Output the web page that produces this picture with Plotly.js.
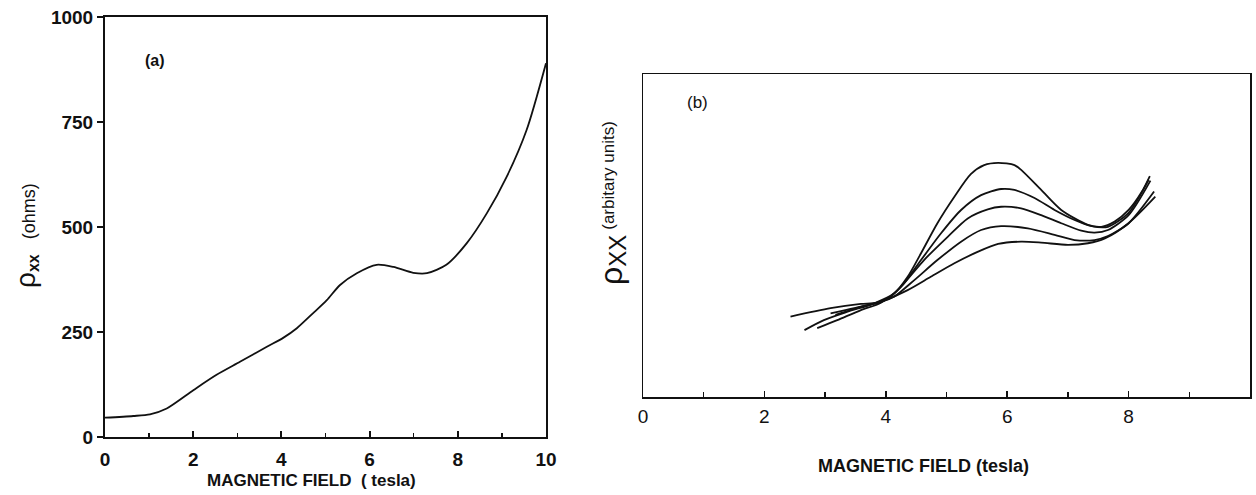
<!DOCTYPE html>
<html>
<head>
<meta charset="utf-8">
<script src="https://cdn.plot.ly/plotly-3.0.1.min.js"></script>
<style>html,body{margin:0;padding:0;background:#fff;}#chart{width:1256px;height:495px;}</style>
</head>
<body>
<div id="chart"></div>
<script>
// Panel (a): rho_xx (ohms) vs magnetic field (tesla)
const fieldA = [0, 0.64, 1.02, 1.40, 2.01, 2.53, 3.06, 3.67, 4.04, 4.35, 4.72, 5.03, 5.33, 5.71, 6.16, 6.54, 6.99, 7.30, 7.74, 8.20, 8.66, 9.11, 9.56, 10.0];
const rhoA   = [46, 50, 54, 68, 112, 148, 179, 215, 236, 259, 295, 326, 362, 390, 410, 405, 391, 390, 410, 461, 533, 620, 731, 890];

// Panel (b): rho_xx (arbitrary units), five curves
const fieldB1 = [2.66, 2.98, 3.37, 3.81, 4.14, 4.36, 4.58, 4.85, 5.13, 5.40, 5.62, 5.85, 6.12, 6.23, 6.56, 6.89, 7.33, 7.55, 7.77, 8.00, 8.22, 8.35];
const rhoB1   = [2.07, 2.38, 2.64, 2.90, 3.21, 3.72, 4.45, 5.38, 6.20, 6.90, 7.18, 7.25, 7.18, 7.03, 6.41, 5.79, 5.33, 5.27, 5.43, 5.79, 6.36, 6.84];
const fieldB2 = [2.87, 3.20, 3.59, 3.92, 4.25, 4.58, 4.91, 5.24, 5.57, 5.90, 6.12, 6.45, 6.78, 7.11, 7.39, 7.66, 8.00, 8.33];
const rhoB2   = [2.13, 2.38, 2.69, 2.92, 3.41, 4.24, 5.07, 5.79, 6.25, 6.44, 6.41, 6.16, 5.79, 5.48, 5.29, 5.27, 5.70, 6.72];
const fieldB3 = [3.09, 3.48, 3.88, 4.08, 4.30, 4.63, 5.02, 5.35, 5.68, 5.90, 6.23, 6.56, 6.89, 7.22, 7.44, 7.66, 8.00, 8.36];
const rhoB3   = [2.59, 2.75, 2.94, 3.11, 3.52, 4.24, 4.96, 5.53, 5.81, 5.89, 5.84, 5.63, 5.38, 5.15, 5.09, 5.17, 5.63, 6.70];
const fieldB4 = [3.17, 3.59, 3.92, 4.14, 4.47, 4.85, 5.24, 5.57, 5.90, 6.34, 6.78, 7.11, 7.44, 7.66, 8.00, 8.42];
const rhoB4   = [2.54, 2.79, 2.94, 3.11, 3.62, 4.24, 4.81, 5.17, 5.29, 5.22, 5.02, 4.86, 4.86, 4.98, 5.38, 6.36];
const fieldB5 = [2.43, 3.09, 3.59, 3.86, 4.36, 4.74, 5.13, 5.52, 5.85, 6.23, 6.56, 7.00, 7.33, 7.61, 8.00, 8.44];
const rhoB5   = [2.49, 2.75, 2.88, 2.92, 3.31, 3.72, 4.14, 4.50, 4.74, 4.81, 4.78, 4.71, 4.76, 4.91, 5.38, 6.20];

const ticksA_y = [0, 250, 500, 750, 1000];
const ticksA_x = [0, 2, 4, 6, 8, 10];
const ticksB_x = [0, 2, 4, 6, 8];

const W = 1256, H = 495;
const px = v => v / W;
const py = v => 1 - v / H;

const lineStyle = {color: '#111', width: 1.8, shape: 'spline', smoothing: 0.75};

const traces = [
  {x: fieldA, y: rhoA, xaxis: 'x', yaxis: 'y', mode: 'lines', line: lineStyle, hoverinfo: 'skip'},
  {x: fieldB1, y: rhoB1, xaxis: 'x2', yaxis: 'y2', mode: 'lines', line: lineStyle, hoverinfo: 'skip'},
  {x: fieldB2, y: rhoB2, xaxis: 'x2', yaxis: 'y2', mode: 'lines', line: lineStyle, hoverinfo: 'skip'},
  {x: fieldB3, y: rhoB3, xaxis: 'x2', yaxis: 'y2', mode: 'lines', line: lineStyle, hoverinfo: 'skip'},
  {x: fieldB4, y: rhoB4, xaxis: 'x2', yaxis: 'y2', mode: 'lines', line: lineStyle, hoverinfo: 'skip'},
  {x: fieldB5, y: rhoB5, xaxis: 'x2', yaxis: 'y2', mode: 'lines', line: lineStyle, hoverinfo: 'skip'}
];

const FAM = 'Liberation Sans, Arial, sans-serif';
const boldTick = {family: FAM, size: 19, color: '#111', weight: 'bold'};
const regTick = {family: FAM, size: 19, color: '#111'};

const layout = {
  width: W, height: H,
  margin: {l: 0, r: 0, t: 0, b: 0},
  paper_bgcolor: '#fff', plot_bgcolor: '#fff',
  showlegend: false,
  xaxis: {
    domain: [px(105), px(546)], range: [0, 10], anchor: 'y',
    tickvals: ticksA_x, ticktext: ticksA_x.map(String),
    ticks: 'inside', ticklen: 6, tickwidth: 2, tickcolor: '#111',
    minor: {dtick: 1, tick0: 0, ticks: 'inside', ticklen: 4, tickwidth: 1.5, tickcolor: '#111'},
    showline: true, linecolor: '#111', linewidth: 2, mirror: true,
    showgrid: false, zeroline: false, tickfont: boldTick, ticklabelstandoff: 4
  },
  yaxis: {
    domain: [py(437), py(17)], range: [0, 1000], anchor: 'x',
    tickvals: ticksA_y, ticktext: ticksA_y.map(String),
    ticks: 'outside', ticklen: 6, tickwidth: 2, tickcolor: '#111',
    showline: true, linecolor: '#111', linewidth: 2, mirror: true,
    showgrid: false, zeroline: false, tickfont: boldTick
  },
  xaxis2: {
    domain: [px(643), px(1250)], range: [0, 10], anchor: 'y2',
    tickvals: ticksB_x, ticktext: ticksB_x.map(String),
    ticks: 'inside', ticklen: 6, tickwidth: 1.5, tickcolor: '#111',
    minor: {dtick: 1, tick0: 0, ticks: 'inside', ticklen: 5, tickwidth: 1.2, tickcolor: '#111'},
    showline: true, linecolor: '#111', linewidth: 1.5, mirror: true,
    showgrid: false, zeroline: false, tickfont: regTick, ticklabelstandoff: 2
  },
  yaxis2: {
    domain: [py(397), py(74)], range: [0, 10], anchor: 'x2',
    showticklabels: false, ticks: '',
    showline: true, linecolor: '#111', linewidth: 1.5, mirror: true,
    showgrid: false, zeroline: false
  },
  annotations: [
    {xref: 'paper', yref: 'paper', x: px(155), y: py(60), xanchor: 'center', yanchor: 'middle', text: '(a)', showarrow: false,
     font: {family: FAM, size: 16, color: '#111', weight: 'bold'}},
    {xref: 'paper', yref: 'paper', x: px(697), y: py(102), xanchor: 'center', yanchor: 'middle', text: '(b)', showarrow: false,
     font: {family: FAM, size: 17, color: '#111'}},
    {xref: 'paper', yref: 'paper', x: px(311), y: py(480), xanchor: 'center', yanchor: 'middle', text: 'MAGNETIC FIELD  ( tesla)', showarrow: false,
     font: {family: FAM, size: 17, color: '#111', weight: 'bold'}},
    {xref: 'paper', yref: 'paper', x: px(924), y: py(466), xanchor: 'center', yanchor: 'middle', text: 'MAGNETIC FIELD (tesla)', showarrow: false,
     font: {family: FAM, size: 18, color: '#111', weight: 'bold'}},
    {xref: 'paper', yref: 'paper', x: px(26), y: py(236), xanchor: 'center', yanchor: 'middle', textangle: -90, showarrow: false,
     text: "<span style='font-size:28px'>ρ</span><sub><span style='font-size:16px'><b>xx</b></span></sub>   (ohms)",
     font: {family: FAM, size: 18, color: '#111'}},
    {xref: 'paper', yref: 'paper', x: px(612), y: py(203), xanchor: 'center', yanchor: 'middle', textangle: -90, showarrow: false,
     text: "<span style='font-size:32px'>ρ</span><sub><span style='font-size:24px'>XX</span></sub> <sup><span style='font-size:17px'>(arbitary units)</span></sup>",
     font: {family: FAM, size: 18, color: '#111'}}
  ]
};

Plotly.newPlot('chart', traces, layout, {staticPlot: true, displayModeBar: false});
</script>
</body>
</html>
